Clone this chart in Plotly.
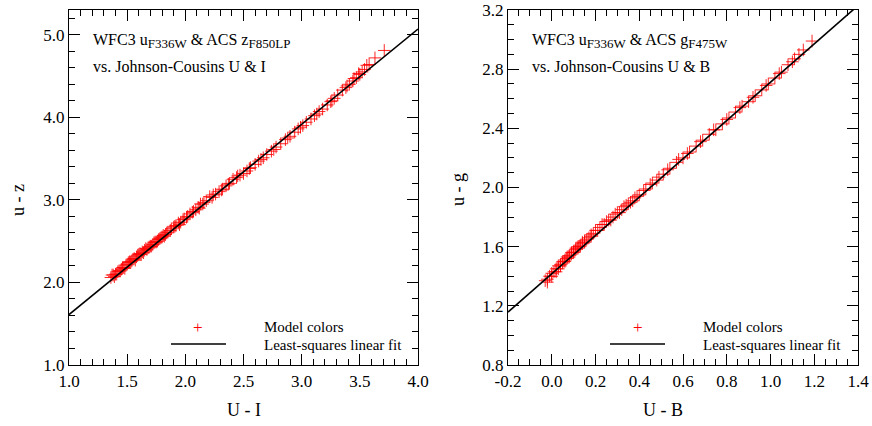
import plotly.graph_objects as go

W, H = 872, 426
FONT = 'Liberation Serif'

# left panel: U - I vs u - z (model colors)
ui = [1.36, 1.37, 1.38, 1.39, 1.40, 1.41, 1.42, 1.43, 1.44, 1.45, 1.46, 1.47, 1.48, 1.49,
      1.50, 1.51, 1.52, 1.53, 1.54, 1.55, 1.56, 1.57, 1.58, 1.59, 1.60, 1.61, 1.62, 1.63,
      1.64, 1.65, 1.66, 1.67, 1.68, 1.69, 1.70, 1.71, 1.72, 1.73, 1.74, 1.75, 1.76, 1.77,
      1.78, 1.79, 1.80, 1.81, 1.82, 1.83, 1.84, 1.85, 1.87, 1.88, 1.90, 1.91, 1.92, 1.94,
      1.95, 1.96, 1.98, 1.99, 2.01, 2.02, 2.04, 2.06, 2.07, 2.09, 2.11, 2.12, 2.13, 2.15,
      2.16, 2.18, 2.21, 2.23, 2.24, 2.26, 2.29, 2.31, 2.32, 2.35, 2.37, 2.38, 2.41, 2.44,
      2.45, 2.47, 2.50, 2.53, 2.55, 2.56, 2.60, 2.63, 2.65, 2.67, 2.70, 2.74, 2.76, 2.78,
      2.82, 2.86, 2.88, 2.90, 2.94, 2.97, 2.99, 3.01, 3.04, 3.08, 3.11, 3.13, 3.15, 3.18,
      3.22, 3.25, 3.26, 3.28, 3.31, 3.35, 3.38, 3.39, 3.41, 3.44, 3.45, 3.47, 3.49, 3.50,
      3.52, 3.54, 3.56, 3.58, 3.63, 3.71]
uz = [2.06, 2.09, 2.09, 2.07, 2.10, 2.10, 2.13, 2.14, 2.14, 2.16, 2.18, 2.18, 2.17, 2.21,
      2.22, 2.24, 2.25, 2.25, 2.26, 2.28, 2.29, 2.27, 2.31, 2.33, 2.34, 2.35, 2.34, 2.37,
      2.36, 2.39, 2.41, 2.40, 2.42, 2.43, 2.44, 2.44, 2.46, 2.48, 2.49, 2.49, 2.50, 2.52,
      2.53, 2.54, 2.55, 2.57, 2.56, 2.58, 2.60, 2.61, 2.63, 2.65, 2.67, 2.68, 2.69, 2.72,
      2.70, 2.73, 2.76, 2.77, 2.79, 2.80, 2.83, 2.85, 2.86, 2.88, 2.91, 2.90, 2.95, 2.95,
      2.97, 2.99, 3.04, 3.03, 3.06, 3.07, 3.10, 3.12, 3.13, 3.17, 3.19, 3.20, 3.25, 3.27,
      3.29, 3.30, 3.32, 3.35, 3.38, 3.39, 3.43, 3.47, 3.49, 3.51, 3.55, 3.59, 3.61, 3.64,
      3.68, 3.73, 3.75, 3.77, 3.82, 3.86, 3.88, 3.90, 3.94, 3.98, 4.02, 4.04, 4.07, 4.10,
      4.15, 4.19, 4.20, 4.23, 4.27, 4.33, 4.36, 4.38, 4.40, 4.44, 4.47, 4.48, 4.53, 4.52,
      4.55, 4.58, 4.63, 4.64, 4.72, 4.81]

# right panel: U - B vs u - g (model colors)
ub = [-0.03, -0.02, -0.02, -0.01, 0.00, 0.00, 0.01, 0.02, 0.02, 0.03, 0.03, 0.04, 0.04,
      0.05, 0.05, 0.06, 0.06, 0.07, 0.07, 0.08, 0.08, 0.09, 0.09, 0.10, 0.10, 0.11, 0.11,
      0.12, 0.12, 0.13, 0.13, 0.14, 0.14, 0.15, 0.15, 0.16, 0.17, 0.18, 0.18, 0.19, 0.20,
      0.21, 0.22, 0.23, 0.24, 0.25, 0.26, 0.27, 0.28, 0.29, 0.30, 0.31, 0.32, 0.33, 0.34,
      0.35, 0.36, 0.37, 0.38, 0.39, 0.40, 0.42, 0.43, 0.45, 0.46, 0.48, 0.49, 0.51, 0.53,
      0.54, 0.57, 0.58, 0.60, 0.62, 0.63, 0.66, 0.68, 0.69, 0.72, 0.74, 0.75, 0.78, 0.80,
      0.81, 0.84, 0.86, 0.87, 0.90, 0.92, 0.93, 0.96, 0.98, 0.99, 1.02, 1.04, 1.05, 1.08,
      1.10, 1.11, 1.13, 1.15, 1.19]
ug = [1.37, 1.38, 1.36, 1.40, 1.42, 1.40, 1.43, 1.45, 1.43, 1.47, 1.45, 1.48, 1.47,
      1.50, 1.49, 1.51, 1.50, 1.53, 1.52, 1.54, 1.53, 1.55, 1.56, 1.57, 1.56, 1.58, 1.59,
      1.60, 1.59, 1.61, 1.60, 1.62, 1.63, 1.64, 1.63, 1.65, 1.66, 1.67, 1.68, 1.69, 1.71,
      1.71, 1.73, 1.75, 1.75, 1.77, 1.78, 1.78, 1.80, 1.82, 1.83, 1.83, 1.85, 1.87, 1.88,
      1.89, 1.90, 1.91, 1.93, 1.94, 1.95, 1.98, 1.99, 2.02, 2.03, 2.05, 2.07, 2.09, 2.12,
      2.13, 2.17, 2.19, 2.20, 2.23, 2.24, 2.28, 2.31, 2.32, 2.36, 2.39, 2.39, 2.43, 2.46,
      2.47, 2.51, 2.54, 2.55, 2.58, 2.61, 2.62, 2.66, 2.69, 2.70, 2.74, 2.77, 2.78, 2.83,
      2.85, 2.87, 2.90, 2.93, 2.99]

# least-squares fits (intercept, slope)
fit_uz = (0.457, 1.153)
fit_ug = (1.417, 1.295)

ui_range = [1.0, 4.0]
uz_range = [1.0, 5.3]
ub_range = [-0.2, 1.4]
ug_range = [0.8, 3.2]

ui_ticks = [1.0, 1.5, 2.0, 2.5, 3.0, 3.5, 4.0]
uz_ticks = [1.0, 2.0, 3.0, 4.0, 5.0]
ub_ticks = [-0.2, 0.0, 0.2, 0.4, 0.6, 0.8, 1.0, 1.2, 1.4]
ug_ticks = [0.8, 1.2, 1.6, 2.0, 2.4, 2.8, 3.2]


def px(x):
    return x / W


def py(y):
    return 1 - y / H


def axis_style(rng, ticks, minor_dtick, domain, anchor):
    return dict(range=rng, domain=domain, anchor=anchor, automargin=False,
                tickvals=ticks, ticktext=['%.1f' % t for t in ticks],
                ticklabeloverflow='allow',
                ticks='inside', ticklen=11, tickwidth=1.2,
                tickcolor='black', mirror='allticks', showline=True,
                linecolor='black', linewidth=1.3, showgrid=False, zeroline=False,
                tickfont=dict(family=FONT, size=17, color='black'),
                minor=dict(tick0=rng[0], dtick=minor_dtick, ticks='inside', ticklen=6,
                           tickwidth=1, tickcolor='black', showgrid=False))


fig = go.Figure()

marker = dict(symbol='cross-thin', size=9, color='red',
              line=dict(color='rgba(255,0,0,0.85)', width=1))

fig.add_trace(go.Scatter(x=ui, y=uz, mode='markers', marker=marker,
                         xaxis='x', yaxis='y', showlegend=False))
fig.add_trace(go.Scatter(x=ui_range, y=[fit_uz[0] + fit_uz[1] * v for v in ui_range],
                         mode='lines', line=dict(color='black', width=1.6),
                         xaxis='x', yaxis='y', showlegend=False))
fig.add_trace(go.Scatter(x=ub, y=ug, mode='markers', marker=marker,
                         xaxis='x2', yaxis='y2', showlegend=False))
fig.add_trace(go.Scatter(x=ub_range, y=[fit_ug[0] + fit_ug[1] * v for v in ub_range],
                         mode='lines', line=dict(color='black', width=1.6),
                         xaxis='x2', yaxis='y2', showlegend=False))

ydom = [py(365), py(10)]
fig.update_layout(
    width=W, height=H,
    margin=dict(l=0, r=0, t=0, b=0),
    paper_bgcolor='white', plot_bgcolor='white',
    xaxis=axis_style(ui_range, ui_ticks, 0.1, [px(69), px(418)], 'y'),
    yaxis=axis_style(uz_range, uz_ticks, 0.2, ydom, 'x'),
    xaxis2=axis_style(ub_range, ub_ticks, 0.05, [px(508), px(858)], 'y2'),
    yaxis2=axis_style(ug_range, ug_ticks, 0.1, ydom, 'x2'),
)

annotations = []
shapes = []


def text(x, y, s, size=16, color='black', xanchor='left', angle=0):
    annotations.append(dict(x=px(x), y=py(y), xref='paper', yref='paper', text=s,
                            showarrow=False, xanchor=xanchor, yanchor='middle',
                            textangle=angle,
                            font=dict(family=FONT, size=size, color=color)))


def sub(s):
    return '<sub><span style="font-size:13px">%s</span></sub>' % s


# panel labels
text(91, 41, 'WFC3 u' + sub('F336W') + ' &amp; ACS z' + sub('F850LP'))
text(91, 67, 'vs. Johnson-Cousins U &amp; I')
text(530, 41, 'WFC3 u' + sub('F336W') + ' &amp; ACS g' + sub('F475W'))
text(530, 66, 'vs. Johnson-Cousins U &amp; B')

# axis titles
text(244, 410, 'U - I', size=18, xanchor='center')
text(663, 410, 'U - B', size=18, xanchor='center')
text(18, 200, 'u - z', size=18, xanchor='center', angle=-90)
text(458, 190, 'u - g', size=18, xanchor='center', angle=-90)

# legends
for mx, lx0, lx1, tx in [(198, 171, 226, 262), (638, 610, 665, 701)]:
    text(mx, 327, '+', size=17, color='#ff0000', xanchor='center')
    text(tx, 327, 'Model colors', size=15)
    text(tx, 345, 'Least-squares linear fit', size=15)
    shapes.append(dict(type='line', xref='paper', yref='paper',
                       x0=px(lx0), x1=px(lx1), y0=py(344), y1=py(344),
                       line=dict(color='black', width=1.6)))

fig.update_layout(annotations=annotations, shapes=shapes)

# drop the default page margin so the figure sits at the window corner
fig.write_html("out.html", config={'displayModeBar': False},
               post_script="document.body.style.margin = '0';")
